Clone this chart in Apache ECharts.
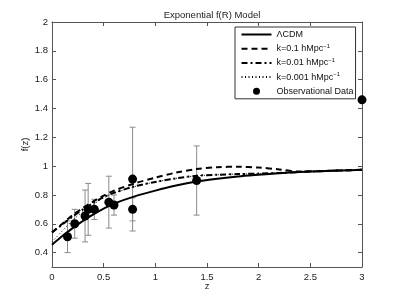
<!DOCTYPE html>
<html><head><meta charset="utf-8">
<script src="https://cdn.jsdelivr.net/npm/echarts@6/dist/echarts.min.js"></script>
<style>html,body{margin:0;padding:0;background:#fff}#c{width:399px;height:300px}</style>
</head><body><div id="c"></div>
<script>
// ---- data ----
const zGrid   = [0, 0.1, 0.2, 0.3, 0.4, 0.5, 0.6, 0.8, 1.0, 1.2, 1.4, 1.6, 1.8, 2.0, 2.2, 2.4, 2.6, 2.8, 3.0];
const lcdm    = [0.455, 0.515, 0.57, 0.62, 0.665, 0.705, 0.74, 0.79, 0.83, 0.865, 0.893, 0.912, 0.928, 0.94, 0.951, 0.959, 0.965, 0.97, 0.975];
const k01     = [0.54, 0.60, 0.66, 0.71, 0.755, 0.795, 0.83, 0.88, 0.92, 0.955, 0.98, 0.993, 0.995, 0.99, 0.977, 0.962, 0.966, 0.97, 0.975];
const k001    = [0.54, 0.595, 0.65, 0.70, 0.745, 0.785, 0.815, 0.86, 0.89, 0.915, 0.933, 0.94, 0.945, 0.948, 0.953, 0.959, 0.965, 0.97, 0.975];
const k0001   = [0.475, 0.55, 0.625, 0.685, 0.735, 0.78, 0.812, 0.858, 0.89, 0.915, 0.933, 0.94, 0.945, 0.948, 0.953, 0.959, 0.965, 0.97, 0.975];
const obsZ    = [0.15, 0.22, 0.32, 0.35, 0.41, 0.55, 0.60, 0.78, 0.78, 1.4, 3.0];
const obsF    = [0.51, 0.60, 0.654, 0.70, 0.70, 0.75, 0.73, 0.91, 0.70, 0.90, 1.46];
const obsErr  = [0.11, 0.10, 0.18, 0.18, 0.07, 0.18, 0.07, 0.36, 0.08, 0.24, 0];
const yTicks  = [0.4, 0.6, 0.8, 1, 1.2, 1.4, 1.6, 1.8, 2];
const names   = ['ΛCDM', 'k=0.1 hMpc{sup|−1}', 'k=0.01 hMpc{sup|−1}', 'k=0.001 hMpc{sup|−1}', 'Observational Data'];

const FONT = 'Liberation Sans';
const pair = (xs, ys) => xs.map((x, i) => [x, ys[i]]);
const errData = obsZ.map((z, i) => [z, obsF[i] - obsErr[i], obsF[i] + obsErr[i]]).filter((d, i) => obsErr[i] > 0);

function renderErr(params, api) {
  const x = api.value(0), lo = api.value(1), hi = api.value(2);
  const a = api.coord([x, lo]), b = api.coord([x, hi]);
  const c = 3;
  const st = { stroke: '#8a8a8a', lineWidth: 1 };
  return { type: 'group', children: [
    { type: 'line', shape: { x1: a[0], y1: a[1], x2: b[0], y2: b[1] }, style: st },
    { type: 'line', shape: { x1: a[0] - c, y1: a[1], x2: a[0] + c, y2: a[1] }, style: st },
    { type: 'line', shape: { x1: b[0] - c, y1: b[1], x2: b[0] + c, y2: b[1] }, style: st }
  ]};
}

const axisCol = '#555';
const tickStyle = { show: true, inside: true, length: 4, lineStyle: { color: axisCol } };
const lbl = { color: '#222', fontFamily: FONT, fontSize: 9.5 };

const legendData = names.map((n, i) => i < 4
  ? { name: n, itemStyle: { opacity: 0 } }
  : { name: n, icon: 'circle', itemStyle: { color: '#000', opacity: 1 } });

const chart = echarts.init(document.getElementById('c'));
chart.setOption({
  animation: false,
  backgroundColor: '#fff',
  title: { text: 'Exponential f(R) Model', left: 207, textAlign: 'center', top: 5,
    textStyle: { fontFamily: FONT, fontSize: 9.5, fontWeight: 'normal', color: '#222' } },
  grid: { left: 52, right: 37, top: 22, bottom: 33 },
  legend: {
    orient: 'vertical', left: 235, top: 27,
    itemWidth: 30, itemHeight: 7, itemGap: 3.2,
    padding: [2, 2, 2, 5.5],
    borderColor: '#333', borderWidth: 1, backgroundColor: '#fff',
    data: legendData,
    textStyle: { fontFamily: FONT, fontSize: 9, color: '#111', lineHeight: 11,
      rich: { sup: { fontSize: 6, fontFamily: FONT, color: '#111', lineHeight: 11, verticalAlign: 'top' } } }
  },
  xAxis: [
    { type: 'value', min: 0, max: 3, interval: 0.5, position: 'bottom',
      name: 'z', nameLocation: 'middle', nameGap: 14, nameMoveOverlap: false, nameTextStyle: lbl,
      axisLine: { show: true, onZero: false, lineStyle: { color: axisCol } },
      axisTick: tickStyle, splitLine: { show: false },
      axisLabel: Object.assign({ margin: 5 }, lbl) },
    { type: 'value', min: 0, max: 3, interval: 0.5, position: 'top',
      axisLine: { show: true, onZero: false, lineStyle: { color: axisCol } },
      axisTick: tickStyle, splitLine: { show: false }, axisLabel: { show: false } }
  ],
  yAxis: [
    { type: 'value', min: 0.3, max: 2, position: 'left',
      name: 'f(z)', nameLocation: 'middle', nameGap: 22, nameMoveOverlap: false, nameRotate: 90, nameTextStyle: lbl,
      axisLine: { show: true, onZero: false, lineStyle: { color: axisCol } },
      axisTick: Object.assign({ customValues: yTicks }, tickStyle), splitLine: { show: false },
      axisLabel: Object.assign({ margin: 4, customValues: yTicks,
        formatter: v => String(Math.round(v * 10) / 10) }, lbl) },
    { type: 'value', min: 0.3, max: 2, position: 'right',
      axisLine: { show: true, onZero: false, lineStyle: { color: axisCol } },
      axisTick: Object.assign({ customValues: yTicks }, tickStyle), splitLine: { show: false },
      axisLabel: { show: false } }
  ],
  series: [
    { type: 'custom', renderItem: renderErr, data: errData, z: 1, silent: true,
      encode: { x: 0, y: [1, 2] } },
    { name: names[0], type: 'line', data: pair(zGrid, lcdm), symbol: 'none', smooth: 0.3, z: 3,
      lineStyle: { color: '#000', width: 2, type: 'solid' }, itemStyle: { color: '#000' } },
    { name: names[1], type: 'line', data: pair(zGrid, k01), symbol: 'none', smooth: 0.3, z: 3,
      lineStyle: { color: '#000', width: 2, type: [6, 4] }, itemStyle: { color: '#000' } },
    { name: names[2], type: 'line', data: pair(zGrid, k001), symbol: 'none', smooth: 0.3, z: 3,
      lineStyle: { color: '#000', width: 2, type: [6, 3, 2, 3] }, itemStyle: { color: '#000' } },
    { name: names[3], type: 'line', data: pair(zGrid, k0001), symbol: 'none', smooth: 0.3, z: 3,
      lineStyle: { color: '#000', width: 1, type: [1, 2.5] }, itemStyle: { color: '#000' } },
    { name: names[4], type: 'scatter', data: pair(obsZ, obsF), symbol: 'circle', symbolSize: 9, z: 4,
      clip: false, itemStyle: { color: '#000', opacity: 1 } }
  ]
});
</script></body></html>
